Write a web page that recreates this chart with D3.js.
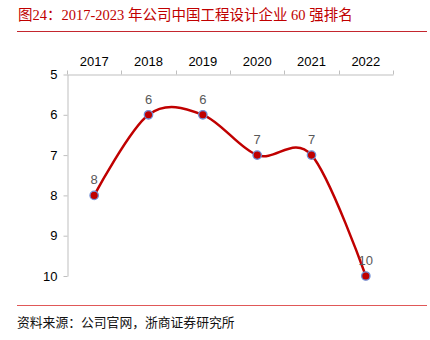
<!DOCTYPE html>
<html><head><meta charset="utf-8">
<script src="https://cdn.jsdelivr.net/npm/d3@7"></script>
<style>
html,body{margin:0;padding:0;background:#fff;}
svg{display:block;}
</style></head>
<body>
<svg id="c" width="430" height="340"></svg>
<script>
const titleText = "图24：2017-2023 年公司中国工程设计企业 60 强排名";
const sourceText = "资料来源：公司官网，浙商证券研究所";
const years = ["2017","2018","2019","2020","2021","2022"];
const ranks = [8, 6, 6, 7, 7, 10];
const yTicks = [5, 6, 7, 8, 9, 10];

const svg = d3.select("#c");
const red = "#c00000";

svg.append("text").attr("x", 18).attr("y", 20)
  .attr("fill", red)
  .style("font-family", "'Liberation Serif','Noto Sans CJK SC',serif")
  .style("font-size", "14.5px")
  .text(titleText);

svg.append("line").attr("x1", 17).attr("x2", 427).attr("y1", 31.5).attr("y2", 31.5)
  .attr("stroke", "#c4262e").attr("stroke-width", 1);
svg.append("line").attr("x1", 17).attr("x2", 427).attr("y1", 305.5).attr("y2", 305.5)
  .attr("stroke", "#e05858").attr("stroke-width", 1);

svg.append("text").attr("x", 17).attr("y", 327)
  .attr("fill", "#111")
  .style("font-family", "'Noto Sans CJK SC',sans-serif")
  .style("font-size", "12.8px")
  .text(sourceText);

const x = d3.scaleBand().domain(years).range([67, 393]);
const y = d3.scaleLinear().domain([5, 10]).range([74.5, 276]);

const axisColor = "#bfbfbf";
// x axis on top
const gx = svg.append("g").attr("transform", "translate(0,74.5)")
  .call(d3.axisTop(x).tickSize(0).tickPadding(9));
gx.select(".domain").attr("stroke", axisColor);
gx.selectAll("text").style("font-family", "'Liberation Sans',Arial,sans-serif")
  .style("font-size", "13px").attr("fill", "#000");
// boundary ticks
const bounds = years.map(d => x(d)).concat([x.range()[1]]);
gx.selectAll("line.bt").data(bounds).enter().append("line").attr("class", "bt")
  .attr("x1", d => Math.round(d) + 0.5).attr("x2", d => Math.round(d) + 0.5)
  .attr("y1", 0).attr("y2", -4).attr("stroke", axisColor);

// y axis
const gy = svg.append("g").attr("transform", "translate(67.5,0)")
  .call(d3.axisLeft(y).tickValues(yTicks).tickFormat(d3.format("d")).tickSize(4).tickSizeOuter(0).tickPadding(6));
gy.select(".domain").attr("stroke", axisColor);
gy.selectAll(".tick line").attr("stroke", axisColor);
gy.selectAll("text").style("font-family", "'Liberation Sans',Arial,sans-serif")
  .style("font-size", "13px").attr("fill", "#000");

const pts = years.map((yr, i) => ({yr, v: ranks[i]}));
const line = d3.line().x(d => x(d.yr) + x.bandwidth()/2).y(d => y(d.v))
  .curve(d3.curveCatmullRom.alpha(0));
svg.append("path").datum(pts).attr("d", line)
  .attr("fill", "none").attr("stroke", red).attr("stroke-width", 2.5);

svg.selectAll("circle.pt").data(pts).enter().append("circle").attr("class", "pt")
  .attr("cx", d => x(d.yr) + x.bandwidth()/2).attr("cy", d => y(d.v))
  .attr("r", 4.2).attr("fill", red).attr("stroke", "#6f8fd6").attr("stroke-width", 1.3);

svg.selectAll("text.lbl").data(pts).enter().append("text").attr("class", "lbl")
  .attr("x", d => x(d.yr) + x.bandwidth()/2)
  .attr("y", d => y(d.v) - 11)
  .attr("text-anchor", "middle")
  .attr("fill", "#595959")
  .style("font-family", "'Liberation Sans',Arial,sans-serif")
  .style("font-size", "13px")
  .text(d => d.v);
</script>
</body></html>
